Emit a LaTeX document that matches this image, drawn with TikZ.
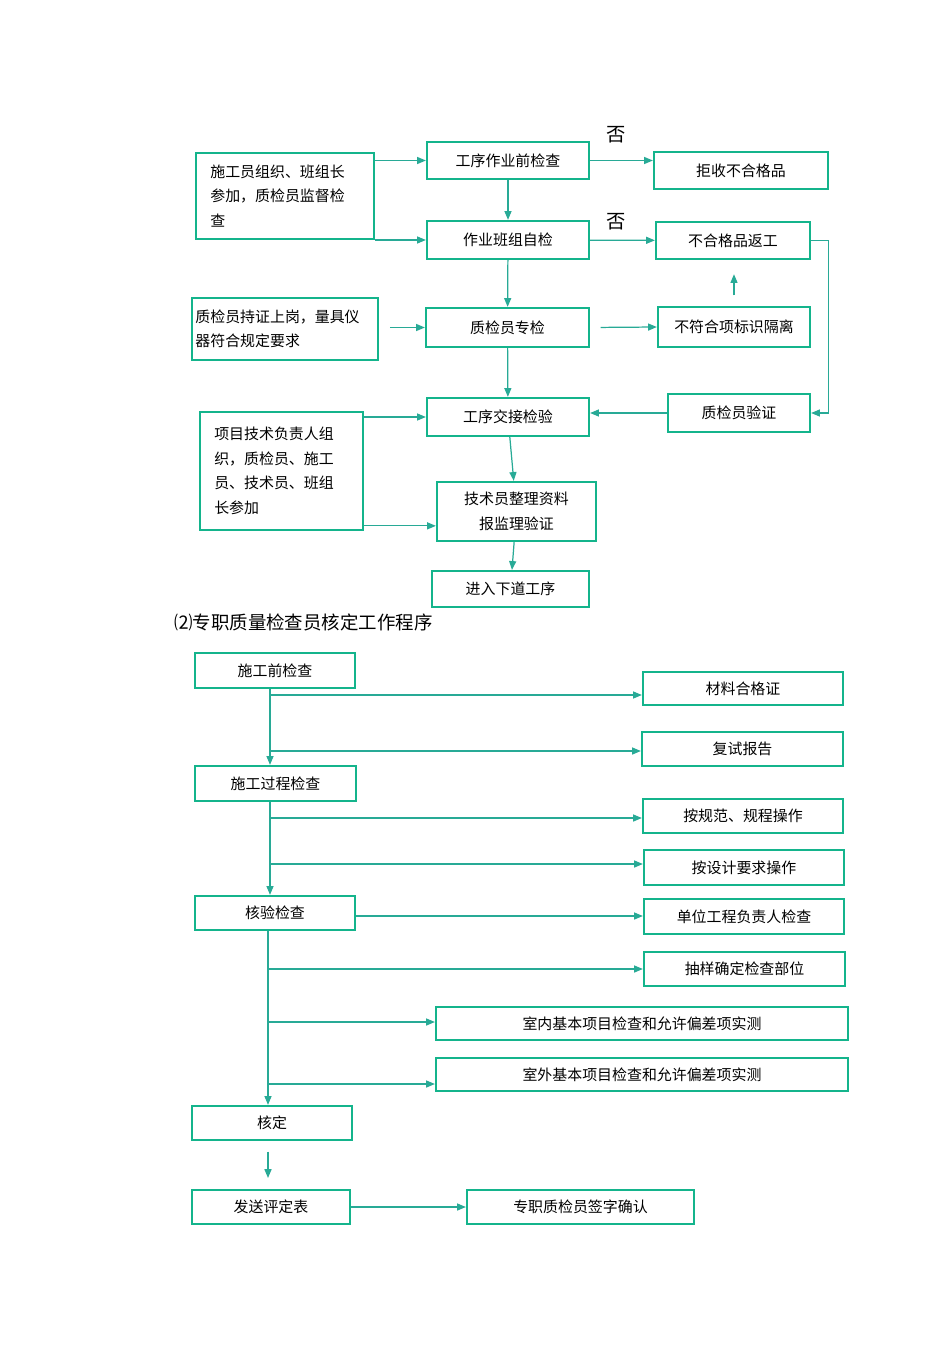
\documentclass[tikz,border=0pt]{standalone}
\usepackage{fontspec}
\setmainfont{Noto Sans CJK SC}
\usetikzlibrary{arrows.meta, positioning, calc}
\definecolor{boxc}{RGB}{20,180,140}
\definecolor{arrc}{RGB}{40,170,150}
\tikzset{
  box/.style={draw=boxc, line width=1.3pt, inner sep=2pt, font=\fontsize{8.5}{14}\selectfont},
  arr/.style={draw=arrc, line width=0.7pt, -{Triangle[length=5pt,width=4pt]}},
}

\begin{document}
\begin{tikzpicture}[x=0.02cm, y=-0.02cm]
\useasboundingbox (0,0) rectangle (950,1345);

% upper flow
\node[box, minimum width=3.56cm, minimum height=1.72cm, align=left] (zuzhi) at (285,196) {施工员组织、班组长\\参加，质检员监督检\\查\phantom{员组织、班组长参加}};
\node[box, minimum width=3.24cm, minimum height=0.74cm] (qianjc) at (508,160.5) {工序作业前检查};
\node[box, minimum width=3.48cm, minimum height=0.74cm] (jushou) at (741,170.5) {拒收不合格品};
\node[box, minimum width=3.24cm, minimum height=0.76cm] (zijian) at (508,240) {作业班组自检};
\node[box, minimum width=3.08cm, minimum height=0.74cm] (fangong) at (733,240.5) {不合格品返工};
\node[box, minimum width=3.56cm, minimum height=1.24cm, align=left] (chizheng) at (285,329) {质检员持证上岗，量具仪\\器符合规定要求\phantom{证上岗，量}};
\node[box, minimum width=3.26cm, minimum height=0.78cm] (zhuanjian) at (507.5,327.5) {质检员专检};
\node[box, minimum width=3.04cm, minimum height=0.80cm] (geli) at (734,327) {不符合项标识隔离};
\node[box, minimum width=3.24cm, minimum height=0.76cm] (jiaojie) at (508,417) {工序交接检验};
\node[box, minimum width=2.84cm, minimum height=0.76cm] (yanzheng) at (739,413) {质检员验证};
\node[box, minimum width=3.26cm, minimum height=2.36cm, align=left] (fuze) at (281.5,471) {项目技术负责人组\\织，质检员、施工\\员、技术员、班组\\长参加\phantom{技术员、班组}};
\node[box, minimum width=3.18cm, minimum height=1.18cm, align=center] (zhengli) at (516.5,511.5) {技术员整理资料\\报监理验证};
\node[box, minimum width=3.14cm, minimum height=0.72cm] (xiadao) at (510.5,589) {进入下道工序};
\node[font=\fontsize{11}{13}\selectfont] (fou1) at (616,135) {否};
\node[font=\fontsize{11}{13}\selectfont] (fou2) at (616,222) {否};

\draw[arr] (zuzhi.east |- qianjc.west) -- (qianjc.west);
\draw[arr] (zuzhi.east |- zijian.west) -- (zijian.west);
\draw[arr] (qianjc.east) -- (jushou.west |- qianjc.east);
\draw[arr] (qianjc) -- (zijian);
\draw[arr] (zijian) -- (fangong);
\draw[arr] (zijian) -- (zhuanjian);
\draw[arr, shorten <=6pt] (zhuanjian.east) -- (geli.west);
\draw[arr, shorten <=6pt, shorten >=8pt] (geli.north) -- (geli.north |- fangong.south);
\draw[arr] (fangong.east) -- ++(17,0) |- (yanzheng.east);
\draw[arr] (yanzheng.west) -- (jiaojie.east |- yanzheng.west);
\draw[arr, shorten <=6pt] (chizheng.east |- zhuanjian.west) -- (zhuanjian.west);
\draw[arr] (zhuanjian) -- (jiaojie);
\draw[arr] (fuze.east |- jiaojie.west) -- (jiaojie.west);
\draw[arr] ([yshift=3pt]fuze.south east) -- ([yshift=3pt]fuze.south east -| zhengli.west);
\draw[arr] (jiaojie) -- (zhengli);
\draw[arr] (zhengli) -- (xiadao);

\node[anchor=west, font=\fontsize{10.5}{13}\selectfont] (title) at (168,622) {⑵专职质量检查员核定工作程序};

% lower flow
\node[box, minimum width=3.20cm, minimum height=0.70cm] (shigongqian) at (275,670.5) {施工前检查};
\node[box, minimum width=4.00cm, minimum height=0.66cm] (cailiao) at (743,688.5) {材料合格证};
\node[box, minimum width=4.02cm, minimum height=0.68cm] (fushi) at (742.5,749) {复试报告};
\node[box, minimum width=3.22cm, minimum height=0.70cm] (guocheng) at (275.5,783.5) {施工过程检查};
\node[box, minimum width=4.00cm, minimum height=0.68cm] (guifan) at (743,816) {按规范、规程操作};
\node[box, minimum width=4.00cm, minimum height=0.70cm] (sheji) at (744,867.5) {按设计要求操作};
\node[box, minimum width=3.20cm, minimum height=0.68cm] (heyan) at (275,913) {核验检查};
\node[box, minimum width=4.00cm, minimum height=0.70cm] (danwei) at (744,916.5) {单位工程负责人检查};
\node[box, minimum width=4.02cm, minimum height=0.68cm] (chouyang) at (744.5,969) {抽样确定检查部位};
\node[box, minimum width=8.24cm, minimum height=0.66cm] (shinei) at (642,1023.5) {室内基本项目检查和允许偏差项实测};
\node[box, minimum width=8.24cm, minimum height=0.66cm] (shiwai) at (642,1074.5) {室外基本项目检查和允许偏差项实测};
\node[box, minimum width=3.20cm, minimum height=0.68cm] (heding) at (272,1123) {核定};
\node[box, minimum width=3.16cm, minimum height=0.68cm] (fasong) at (271,1207) {发送评定表};
\node[box, minimum width=4.54cm, minimum height=0.68cm] (qianzi) at (580.5,1207) {专职质检员签字确认};
\coordinate (jiantou) at (268,1178);

\draw[arr] (shigongqian.south -| 270,0) -- (guocheng.north -| 270,0);
\draw[arr] (270,695) -- (cailiao.west |- 0,695);
\draw[arr] (270,751) -- (fushi.west |- 0,751);
\draw[arr] (guocheng.south -| 270,0) -- (heyan.north -| 270,0);
\draw[arr] (270,818) -- (guifan.west |- 0,818);
\draw[arr] (270,864) -- (sheji.west |- 0,864);
\draw[arr] (heyan.south -| 268,0) -- (heding.north -| 268,0);
\draw[arr] (heyan.east |- 0,916) -- (danwei.west |- 0,916);
\draw[arr] (268,969) -- (chouyang.west |- 0,969);
\draw[arr] (268,1022) -- (shinei.west |- 0,1022);
\draw[arr] (268,1084) -- (shiwai.west |- 0,1084);
\draw[arr, shorten <=6pt] (heding.south -| jiantou) -- (jiantou);
\draw[arr] (fasong) -- (qianzi);

\end{tikzpicture}
\end{document}
